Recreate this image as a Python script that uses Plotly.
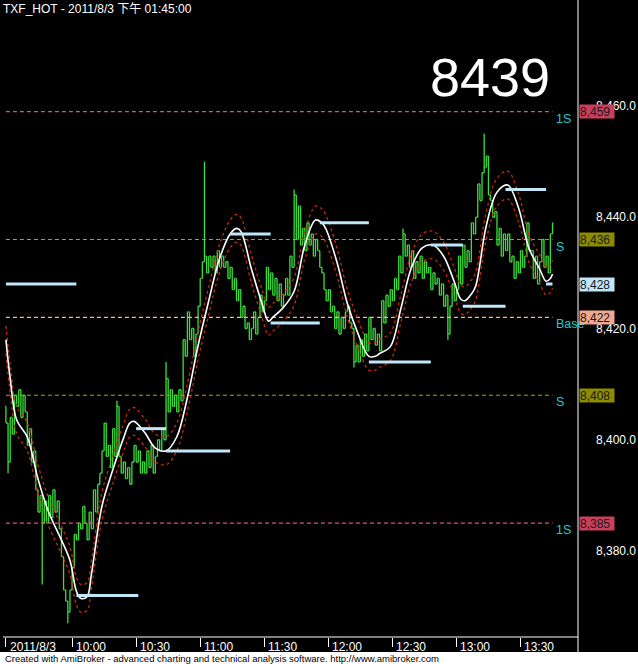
import pandas as pd
import plotly.graph_objects as go

# ---------------- data ----------------
title_text = "TXF_HOT - 2011/8/3 下午 01:45:00"
last_price_text = "8439"
footer_text = ("Created with AmiBroker - advanced charting and technical analysis "
               "software. http://www.amibroker.com")

first_bar = "2011-08-03 09:29"       # 1-minute bars, 09:29 .. 13:45
first_open = 8406
closes = [
    8403, 8396, 8404, 8401, 8408, 8406, 8409, 8404, 8408, 8405,
    8399, 8402, 8396, 8398, 8391, 8387, 8390, 8385, 8389, 8385,
    8390, 8386, 8391, 8387, 8389, 8384, 8379, 8373, 8371, 8369,
    8373, 8377, 8383, 8382, 8385, 8384, 8388, 8385, 8382, 8387,
    8384, 8391, 8387, 8392, 8394, 8398, 8403, 8397, 8399, 8395,
    8402, 8397, 8406, 8397, 8394, 8396, 8393, 8395, 8392, 8396,
    8399, 8396, 8398, 8394, 8396, 8394, 8398, 8395, 8399, 8394,
    8397, 8400, 8398, 8402, 8400, 8411, 8405, 8409, 8406, 8408,
    8405, 8409, 8407, 8418, 8415, 8423, 8418, 8420, 8415, 8419,
    8424, 8429, 8432, 8433, 8430, 8433, 8431, 8433, 8430, 8434,
    8431, 8433, 8431, 8432, 8429, 8431, 8427, 8429, 8425, 8427,
    8422, 8424, 8420, 8421, 8418, 8420, 8423, 8419, 8422, 8426,
    8423, 8425, 8431, 8427, 8430, 8426, 8429, 8425, 8428, 8424,
    8426, 8429, 8426, 8433, 8431, 8444, 8436, 8442, 8435, 8438,
    8434, 8439, 8435, 8437, 8433, 8436, 8434, 8431, 8430, 8427,
    8425, 8427, 8423, 8424, 8420, 8423, 8419, 8422, 8420, 8423,
    8424, 8421, 8420, 8414, 8417, 8414, 8418, 8415, 8419, 8416,
    8422, 8418, 8420, 8417, 8419, 8416, 8425, 8421, 8426, 8424,
    8427, 8425, 8429, 8427, 8433, 8430, 8437, 8433, 8435, 8431,
    8434, 8429, 8432, 8430, 8433, 8429, 8432, 8430, 8431, 8427,
    8430, 8428, 8429, 8426, 8428, 8424, 8426, 8419, 8424, 8428,
    8425, 8427, 8433, 8428, 8435, 8431, 8434, 8432, 8439, 8437,
    8440, 8446, 8443, 8448, 8449, 8451, 8444, 8443, 8440, 8441,
    8435, 8438, 8433, 8437, 8434, 8437, 8432, 8433, 8429, 8432,
    8430, 8434, 8431, 8433, 8439, 8434, 8434, 8429, 8433, 8428,
    8432, 8436, 8431, 8433, 8430, 8437, 8439,
]
# bars whose high / low reach beyond their open-close span (bar index: price)
high_wicks = {52: 8407, 75: 8414, 93: 8450, 135: 8445, 186: 8438, 224: 8455}
low_wicks = {1: 8394, 17: 8374, 29: 8367, 163: 8413, 207: 8418}

# white smoothed line (minute offset from first bar, value)
smooth_min = [0, 2, 5, 10, 15, 20, 25, 30, 33, 35, 38, 40, 45, 50, 55, 58, 60, 65,
              70, 75, 80, 85, 90, 95, 100, 105, 108, 110, 115, 120, 123, 125, 130,
              135, 140, 145, 148, 150, 155, 160, 165, 170, 173, 175, 180, 185, 190,
              195, 200, 205, 210, 213, 215, 218, 220, 225, 230, 235, 240, 245, 250,
              253, 255, 256]
smooth_val = [8418, 8411, 8403.6, 8400.5, 8393, 8387, 8382.8, 8378.3, 8372.8, 8371.5,
              8371.8, 8375.7, 8388.1, 8394.5, 8400.2, 8403, 8403.3, 8401.3, 8398.5, 8398,
              8400.5, 8407.6, 8416.9, 8425, 8432.5, 8437, 8438, 8437.5, 8430.7, 8424.4,
              8421.3, 8422, 8423.8, 8426.7, 8435, 8439.5, 8439, 8437.8, 8432, 8424.4,
              8419, 8415, 8415, 8415.5, 8416.7, 8423.6, 8431, 8434.5, 8435, 8433,
              8428.4, 8425.3, 8425, 8426.2, 8427.6, 8438.5, 8444.5, 8445.8, 8441.8, 8434.4,
              8430.7, 8428.5, 8429, 8429.8]
band_width = 2.5

# pivot (light-blue) segments
pivot_start = ["09:29", "10:02", "10:30", "10:44", "11:14", "11:33", "11:56",
               "12:19", "12:48", "13:03", "13:23", "13:42"]
pivot_end = ["10:02", "10:31", "10:44", "11:14", "11:33", "11:56", "12:19",
             "12:48", "13:03", "13:23", "13:42", "13:45"]
pivot_val = [8428, 8372, 8402, 8398, 8437, 8421, 8439, 8414, 8435, 8424, 8445, 8428]

# support / resistance levels
level_val = [8459, 8436, 8422, 8408, 8385]
level_name = ["1S", "S", "Base", "S", "1S"]
level_color = ["#c8405c", "#8c8c00", "#f0a890", "#8c8c00", "#c8405c"]
level_line_color = ["#e0507a", "#a8a800", "#f8b098", "#a8a800", "#e0507a"]
last_pivot = 8428

y_ticks = [8380, 8400, 8420, 8440, 8460]
x_tick_times = ["09:29", "10:00", "10:30", "11:00", "11:30", "12:00", "12:30", "13:00", "13:30"]
x_tick_text = ["2011/8/3", "10:00", "10:30", "11:00", "11:30", "12:00", "12:30", "13:00", "13:30"]

# ---------------- build ----------------
day = "2011-08-03 "
t0 = pd.Timestamp(first_bar)
times = [t0 + pd.Timedelta(minutes=i) for i in range(len(closes))]
opens = [first_open] + closes[:-1]
highs = [max(o, c) for o, c in zip(opens, closes)]
lows = [min(o, c) for o, c in zip(opens, closes)]
for i, v in high_wicks.items():
    highs[i] = max(highs[i], v)
for i, v in low_wicks.items():
    lows[i] = min(lows[i], v)

GREEN = "#3ade3a"
BG = "#000000"
FONT = "Arial, 'Liberation Sans', 'Noto Sans CJK TC', sans-serif"

fig = go.Figure()

# horizontal level lines
for v, col in zip(level_val, level_line_color):
    fig.add_trace(go.Scatter(x=[times[0], times[-1]], y=[v, v], mode="lines",
                             line=dict(color=col, width=1.2, dash="4px,3px"),
                             hoverinfo="skip", showlegend=False))

# price bars
fig.add_trace(go.Ohlc(x=times, open=opens, high=highs, low=lows, close=closes,
                      increasing=dict(line=dict(color=GREEN, width=1.3)),
                      decreasing=dict(line=dict(color=GREEN, width=1.3)),
                      tickwidth=0.5, hoverinfo="skip", showlegend=False))

# smoothed line and bands
s_times = [t0 + pd.Timedelta(minutes=m) for m in smooth_min]
for off in (band_width, -band_width):
    fig.add_trace(go.Scatter(x=s_times, y=[v + off for v in smooth_val], mode="lines",
                             line=dict(color="#c82a08", width=1.3, dash="3px,3px",
                                       shape="spline", smoothing=1.0),
                             hoverinfo="skip", showlegend=False))
fig.add_trace(go.Scatter(x=s_times, y=smooth_val, mode="lines",
                         line=dict(color="#ffffff", width=1.6, shape="spline", smoothing=1.0),
                         hoverinfo="skip", showlegend=False))

# pivot segments
px, py = [], []
for s, e, v in zip(pivot_start, pivot_end, pivot_val):
    px += [pd.Timestamp(day + s), pd.Timestamp(day + e), None]
    py += [v, v, None]
fig.add_trace(go.Scatter(x=px, y=py, mode="lines", line=dict(color="#c0e6fa", width=3),
                         hoverinfo="skip", showlegend=False))

annotations = []
# level names
label_x = times[-1] + pd.Timedelta(seconds=30)
for v, name in zip(level_val, level_name):
    annotations.append(dict(x=label_x, y=v, xref="x", yref="y", text=name, showarrow=False,
                            xanchor="left", yanchor="middle", yshift=-7,
                            font=dict(family=FONT, size=12.5, color="#22c8d0")))
# right side value boxes
boxes = list(zip(level_val, level_color)) + [(last_pivot, "#c0e6fa")]
for v, col in boxes:
    annotations.append(dict(x=1, y=v, xref="paper", yref="y", text=f"{v:,}",
                            showarrow=False, xanchor="left", yanchor="middle", xshift=1,
                            bgcolor=col, width=34, height=13, borderpad=0, align="left",
                            font=dict(family=FONT, size=12, color="#1a1a1a")))
# x tick labels
for tt, lab in zip(x_tick_times, x_tick_text):
    annotations.append(dict(x=pd.Timestamp(day + tt), y=0, xref="x", yref="paper",
                            text=lab, showarrow=False, xanchor="left", yanchor="top",
                            xshift=2, yshift=-1,
                            font=dict(family=FONT, size=12, color="#ffffff")))
# title
annotations.append(dict(x=0, y=1, xref="paper", yref="paper", text=title_text,
                        showarrow=False, xanchor="left", yanchor="top", xshift=-2, yshift=0,
                        font=dict(family=FONT, size=12, color="#ffffff")))
# big last price
annotations.append(dict(x=0.847, y=0.879, xref="paper", yref="paper", text=last_price_text,
                        showarrow=False, xanchor="center", yanchor="middle",
                        font=dict(family=FONT, size=54, color="#ffffff")))
# footer
annotations.append(dict(x=0, y=-0.0335, xref="paper", yref="paper", text=footer_text,
                        showarrow=False, xanchor="left", yanchor="middle", xshift=0,
                        font=dict(family=FONT, size=9.5, color="#000000")))

shapes = [
    # footer strip
    dict(type="rect", xref="paper", yref="paper", x0=-0.01, x1=1.2, y0=-0.045, y1=-0.0235,
         fillcolor="#ffffff", line=dict(width=0), layer="below"),
    # right border of plot
    dict(type="line", xref="paper", yref="paper", x0=1, x1=1, y0=-0.0235, y1=1,
         line=dict(color="#ffffff", width=1)),
    # x axis base line
    dict(type="line", xref="paper", yref="paper", x0=0, x1=1, y0=0, y1=0,
         line=dict(color="#ffffff", width=1)),
]

x_range = [t0 - pd.Timedelta(seconds=82), times[-1] + pd.Timedelta(seconds=717)]

fig.update_layout(
    width=638, height=664,
    margin=dict(l=3, r=60, t=0, b=27),
    paper_bgcolor=BG, plot_bgcolor=BG,
    showlegend=False,
    annotations=annotations,
    shapes=shapes,
    xaxis=dict(type="date", range=x_range, showgrid=False, zeroline=False,
               showline=False, rangeslider=dict(visible=False),
               tickvals=[pd.Timestamp(day + t) for t in x_tick_times],
               ticks="outside", ticklen=9, tickcolor="#ffffff", tickwidth=1,
               showticklabels=False),
    yaxis=dict(side="right", range=[8364.54, 8479.06], showgrid=False, zeroline=False,
               showline=False, tickvals=y_ticks, tickformat=",.1f", ticks="",
               ticklabelstandoff=17,
               tickfont=dict(family=FONT, size=12, color="#ffffff")),
)

fig.write_html("out.html", config={"displayModeBar": False},
               post_script="document.body.style.margin='0';"
               "document.body.style.background='#000';")
